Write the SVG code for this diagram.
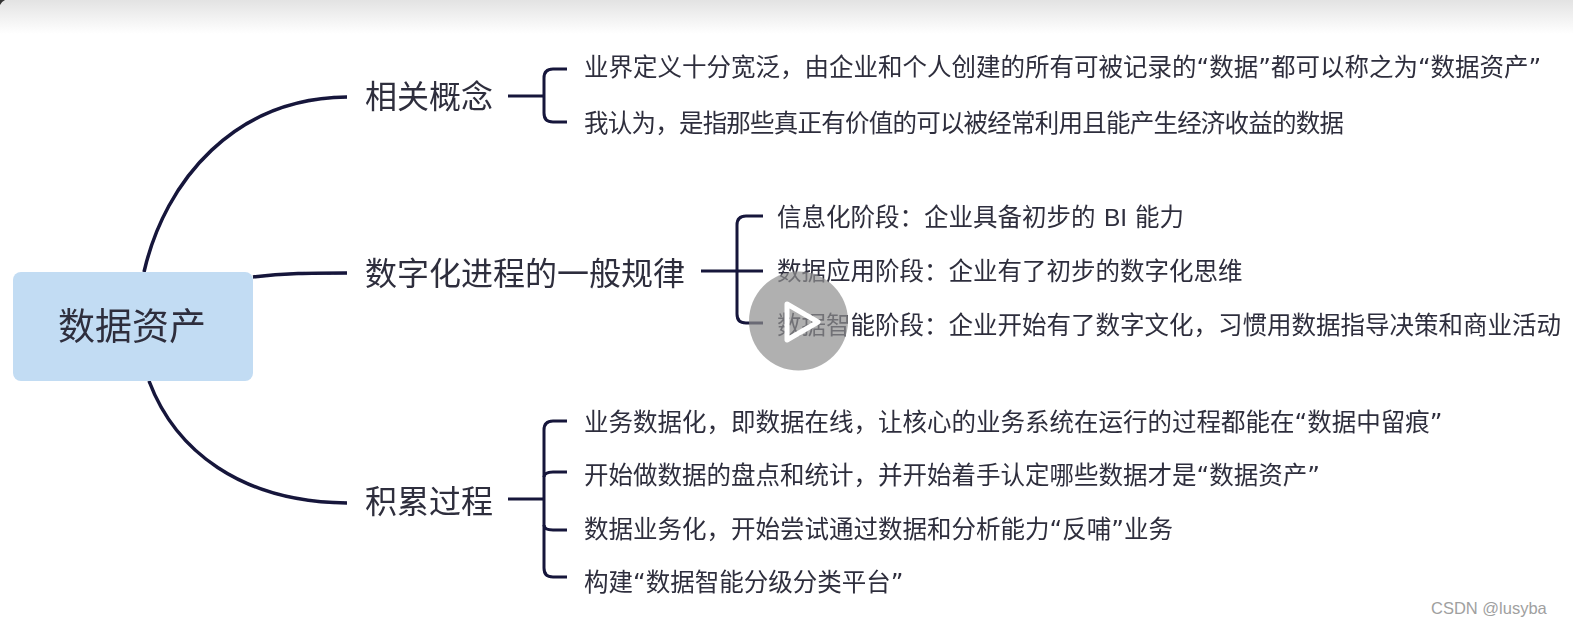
<svg xmlns="http://www.w3.org/2000/svg" width="1573" height="628" viewBox="0 0 1573 628">
<style>
text{font-family:"DejaVu Sans","Noto Sans CJK SC",sans-serif;fill:#2e2e3c}
.leaf{font-size:24.5px}
.branch{font-size:32px;font-family:"Noto Sans CJK SC",sans-serif}
.root{font-size:37px;text-anchor:middle;font-family:"Noto Sans CJK SC",sans-serif}
.lat{font-family:"Liberation Sans",sans-serif}
.c{fill:none;stroke:#14143a;stroke-linecap:butt}
.t{stroke-width:3.5}
.b{stroke-width:3}
</style>
<defs>
<linearGradient id="top" x1="0" y1="0" x2="0" y2="1"><stop offset="0" stop-color="#e3e3e3"/><stop offset="1" stop-color="#ffffff"/></linearGradient>
<filter id="soft" x="-5%" y="-5%" width="110%" height="110%"><feGaussianBlur stdDeviation="0.7"/></filter>
</defs>
<rect width="1573" height="628" fill="#fff"/>
<rect width="1573" height="34" fill="url(#top)"/>
<path d="M0 0H5Q1 2 0 5Z" fill="#333"/>
<g filter="url(#soft)">
<g id="connectors">
<path class="c t" d="M144 272C165 180 235 98 347 97"/>
<path class="c t" d="M253 277C285 273 310 273 347 273"/>
<path class="c t" d="M149 381C175 450 240 502 347 503"/>
<path class="c b" d="M508 96H543"/>
<path class="c b" d="M567 69H553Q544 69 544 78V113Q544 122 553 122H567"/>
<path class="c b" d="M701 271H763"/>
<path class="c b" d="M763 216H746Q737 216 737 225V314Q737 323 746 323H763"/>
<path class="c b" d="M508 499H543"/>
<path class="c b" d="M567 421H553Q544 421 544 430V568Q544 577 553 577H567"/>
<path class="c b" d="M544 477Q544 472 553 472H567M544 525Q544 530 553 530H567"/>
</g>
<g id="root"><rect x="13" y="272" width="240" height="109" rx="8" fill="#c2dcf3"/><text class="root" x="132" y="340">数据资产</text></g>
<g id="b1"><text class="branch" x="365" y="108">相关概念</text></g>
<g id="b2"><text class="branch" x="365" y="285">数字化进程的一般规律</text></g>
<g id="b3"><text class="branch" x="365" y="513">积累过程</text></g>
<g id="l1"><text class="leaf" x="584" y="76">业界定义十分宽泛，由企业和个人创建的所有可被记录的“数据”都可以称之为“数据资产”</text></g>
<g id="l2"><text class="leaf" x="584" y="132" textLength="760">我认为，是指那些真正有价值的可以被经常利用且能产生经济收益的数据</text></g>
<g id="l3"><text class="leaf" x="777" y="226">信息化阶段：企业具备初步的<tspan class="lat" x="1104">BI</tspan><tspan x="1135">能力</tspan></text></g>
<g id="l4"><text class="leaf" x="777" y="280">数据应用阶段：企业有了初步的数字化思维</text></g>
<g id="l5"><text class="leaf" x="777" y="334">数据智能阶段：企业开始有了数字文化，习惯用数据指导决策和商业活动</text></g>
<g id="l6"><text class="leaf" x="584" y="431">业务数据化，即数据在线，让核心的业务系统在运行的过程都能在“数据中留痕”</text></g>
<g id="l7"><text class="leaf" x="584" y="484">开始做数据的盘点和统计，并开始着手认定哪些数据才是“数据资产”</text></g>
<g id="l8"><text class="leaf" x="584" y="538">数据业务化，开始尝试通过数据和分析能力“反哺”业务</text></g>
<g id="l9"><text class="leaf" x="584" y="591">构建“数据智能分级分类平台”</text></g>
</g>
<circle cx="798.5" cy="321" r="49.5" fill="#8e8e8e" fill-opacity="0.7"/>
<path d="M787 304L818 322L787 340Z" fill="none" stroke="#fff" stroke-width="5" stroke-linejoin="round"/>
<text x="1431" y="614" style="font-family:'Liberation Sans',sans-serif;font-size:16.5px;fill:#a0a0a0">CSDN @lusyba</text>
</svg>
